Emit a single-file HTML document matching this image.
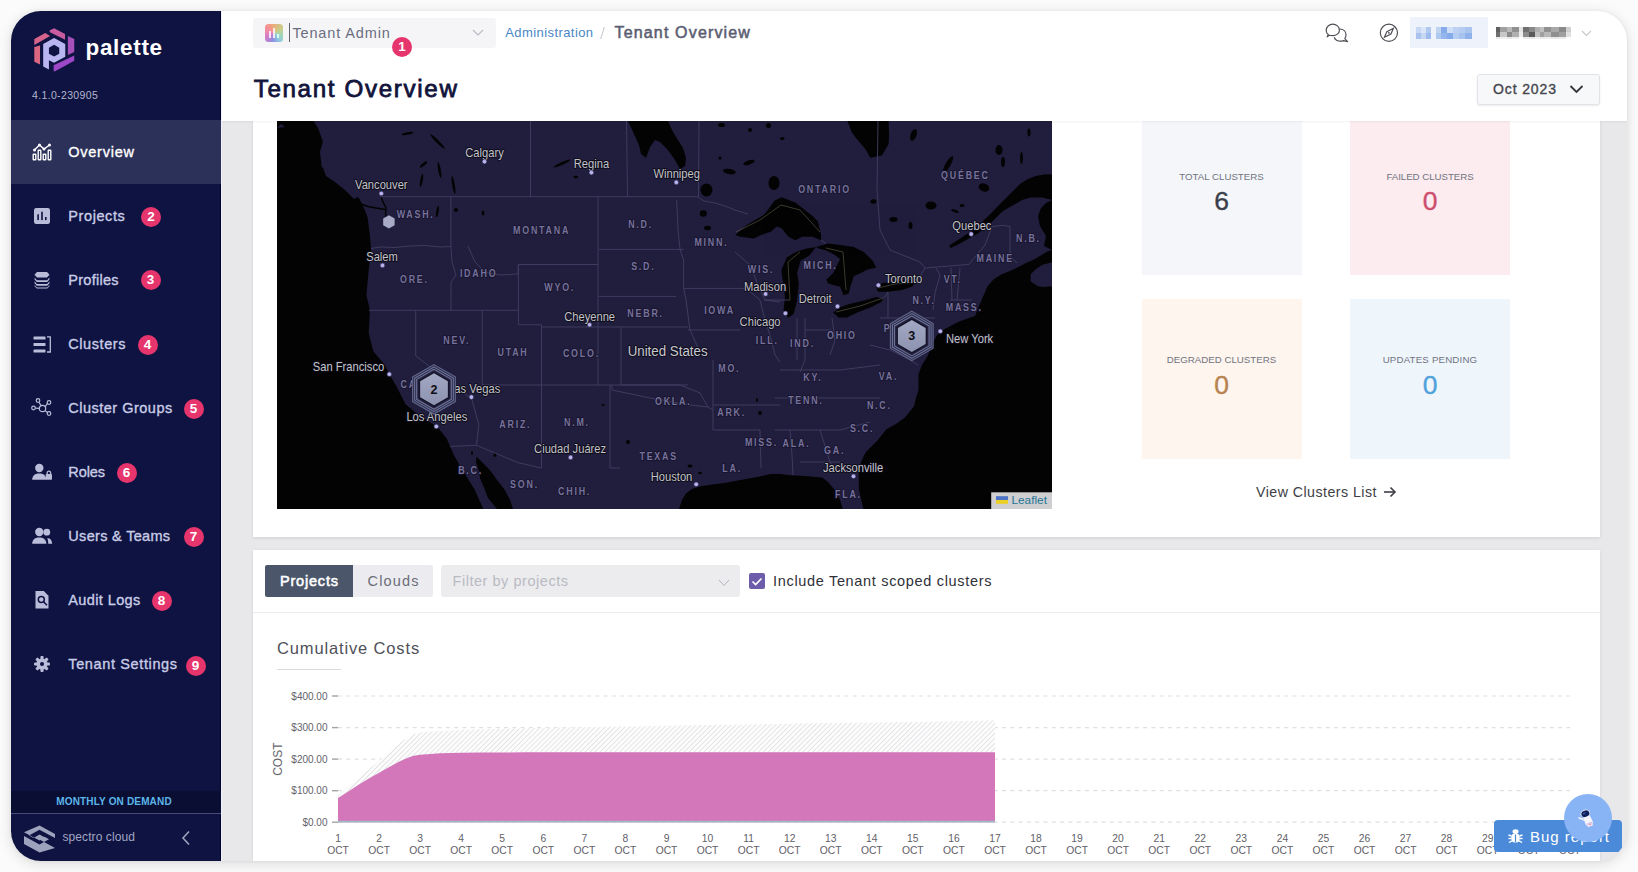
<!DOCTYPE html><html><head><meta charset="utf-8"><title>Tenant Overview</title><style>
*{margin:0;padding:0;box-sizing:border-box}
html,body{width:1638px;height:872px;overflow:hidden;background:#fbfbfb;font-family:"Liberation Sans",Arial,sans-serif}
.a{position:absolute}
#shadow{position:absolute;left:11px;top:11px;width:1616px;height:850px;border-radius:30px;box-shadow:0 3px 14px rgba(0,0,0,.13),0 0 4px rgba(0,0,0,.05);background:#e9e9ee}
#app{position:absolute;left:0;top:0;width:1638px;height:872px;clip-path:inset(11px 11px 11px 11px round 30px)}
#side{position:absolute;left:11px;top:11px;width:210px;height:850px;background:#0e1341}
#content{position:absolute;left:222px;top:121px;width:1405px;height:740px;background:#e8e8eb}
#header{position:absolute;left:221px;top:11px;width:1406px;height:110px;background:#fff;box-shadow:0 1px 2px rgba(0,0,0,.06)}
.card{position:absolute;background:#fff;box-shadow:0 1px 3px rgba(0,0,0,.10)}
.t{position:absolute;white-space:nowrap;line-height:1}
.m{-webkit-text-stroke:0.35px currentColor}
.m2{-webkit-text-stroke:0.55px currentColor}
.m3{-webkit-text-stroke:0.8px currentColor}
</style></head><body><div id="shadow"></div><div id="app"><div id="content"></div><div class="card" style="left:253px;top:100px;width:1347px;height:437px"></div><svg class="a" style="left:277px;top:121px" width="775" height="388" viewBox="277 121 775 388" font-family="Liberation Sans, Arial, sans-serif"><defs><linearGradient id="cg" x1="0" y1="0" x2="0" y2="1"><stop offset="0" stop-color="#a3a8c3"/><stop offset="1" stop-color="#8d93b0"/></linearGradient></defs><rect x="277" y="121" width="775" height="388" fill="#211d3c"/><polygon points="277.0,121.0 313.7,121.0 318.0,128.0 322.9,141.6 320.0,152.0 321.7,166.9 330.0,172.0 338.0,176.0 345.8,182.9 352.0,190.0 359.5,199.0 364.0,208.0 367.6,217.3 369.9,235.6 371.0,249.4 368.7,270.0 366.4,295.3 369.9,310.0 368.7,332.9 373.3,351.3 384.8,365.0 389.3,374.2 396.2,385.7 405.4,404.0 419.2,415.5 437.5,426.9 446.7,438.4 453.5,454.4 462.7,470.5 474.2,488.8 483.4,509.0 277.0,509.0" fill="#030303"/><polygon points="476.5,456.7 482.0,462.0 490.2,470.5 497.0,480.0 504.0,488.8 510.0,500.0 513.0,509.0 497.0,509.0 488.0,498.0 484.5,488.8 480.0,478.0 478.8,470.5 476.0,462.0" fill="#030303"/><polygon points="679.0,509.0 682.0,500.0 685.9,493.4 692.0,489.0 699.7,486.5 713.4,484.3 725.0,483.0 736.4,480.8 746.0,479.0 754.7,477.4 762.0,476.0 770.7,473.9 780.0,474.0 790.0,475.2 805.0,476.0 822.1,477.5 828.0,482.0 835.9,491.2 840.0,500.0 842.8,509.0" fill="#030303"/><polygon points="863.4,509.0 858.8,489.0 858.8,470.6 861.0,462.0 865.7,452.2 877.2,440.8 886.4,429.3 896.0,424.0 904.7,417.8 913.9,406.4 916.0,398.0 918.5,390.3 918.5,374.2 922.0,365.0 927.7,355.9 932.0,345.0 936.8,335.2 943.0,330.0 950.6,326.1 958.0,322.0 966.0,319.0 975.0,316.0 980.3,303.0 987.5,286.2 994.0,279.0 1001.8,274.3 1010.0,271.0 1018.6,267.1 1026.0,263.0 1033.0,259.9 1040.0,256.0 1047.3,251.5 1052.0,250.0 1052.0,509.0" fill="#030303"/><polygon points="949.2,245.5 961.0,238.0 973.1,230.0 982.0,222.0 989.9,214.4 998.0,206.0 1006.6,197.6 1014.0,190.0 1021.0,183.3 1028.0,179.0 1035.4,176.1 1044.0,174.5 1052.0,174.2 1052.0,200.0 1042.5,197.6 1030.6,197.6 1022.0,200.0 1016.2,203.6 1008.0,208.0 1001.8,212.0 992.3,221.6 985.0,228.0 977.9,233.5 968.0,239.0 958.7,244.3 950.4,247.9" fill="#030303"/><polygon points="1052.0,200.0 1046.0,203.0 1041.0,208.0 1038.0,216.0 1040.0,226.0 1046.0,236.0 1044.0,246.0 1052.0,250.0" fill="#030303"/><polygon points="735.2,235.0 747.2,224.7 764.4,214.4 774.7,200.6 781.6,197.2 795.3,202.4 803.9,209.2 812.5,216.1 817.7,221.3 821.1,235.0 821.1,240.2 812.5,236.8 802.2,236.8 795.3,240.2 788.5,236.8 781.6,228.2 776.4,226.4 771.3,231.6 761.0,235.0 754.1,238.5 740.3,236.8" fill="#030303"/><polygon points="781.6,269.4 786.8,257.4 795.3,252.2 805.7,248.8 816.0,247.1 809.1,255.7 800.5,260.8 797.1,272.9 798.8,283.2 797.1,300.4 793.6,314.1 788.5,317.6 783.3,312.4 785.0,296.9 783.3,283.2 781.6,272.9" fill="#030303"/><polygon points="816.0,247.1 828.0,243.6 841.8,245.3 853.8,247.1 864.1,252.2 872.7,260.8 876.2,267.7 867.6,269.4 860.7,272.9 853.8,276.3 850.4,286.6 848.7,293.5 843.5,295.2 840.1,286.6 833.2,284.9 828.0,283.2 826.3,279.7 833.2,272.9 836.6,266.0 840.1,259.1 833.2,253.9 826.3,250.5 819.4,248.8" fill="#030303"/><polygon points="833.2,312.4 840.1,307.3 850.4,303.8 864.1,300.4 876.2,296.9 883.1,298.7 881.3,302.1 871.0,307.3 857.3,312.4 846.9,317.6 838.3,317.6" fill="#030303"/><polygon points="876.2,286.6 881.3,283.2 893.4,281.5 908.8,279.7 915.7,281.5 912.3,286.6 902.0,290.1 888.2,291.8 877.9,291.8" fill="#030303"/><polygon points="847.4,121.0 888.6,121.0 889.0,135.0 888.6,144.0 884.0,152.0 881.8,155.4 870.3,157.7 866.0,150.0 861.1,144.0 856.0,138.0 851.9,132.5" fill="#030303"/><polygon points="628.0,121.0 668.0,121.0 672.0,130.0 676.0,137.0 683.0,148.0 686.0,158.0 685.0,166.0 680.0,169.0 675.0,160.0 668.0,150.0 660.0,142.0 655.0,140.0 650.0,147.0 646.0,158.0 641.0,154.0 639.0,145.0 634.0,134.0" fill="#030303"/><polygon points="277.0,128.0 281.0,124.0 285.0,127.0 284.0,134.0 279.0,139.0 277.0,137.0" fill="#030303"/><polygon points="323.0,168.0 333.0,171.0 343.0,179.0 352.0,188.0 358.0,197.0 354.0,199.0 345.0,190.0 335.0,182.0 326.0,176.0" fill="#211d3c"/><polygon points="277.0,128.0 281.0,124.0 285.0,127.0" fill="#211d3c"/><polygon points="1030.6,274.3 1036.0,269.0 1042.5,264.7 1052.0,262.3 1052.0,286.2 1044.0,287.0 1037.8,286.2 1030.6,281.4" fill="#211d3c"/><polyline points="361,204 368,206.5 376,208 385,209.5" fill="none" stroke="#030303" stroke-width="1.6"/><polyline points="381,197 383.5,203 386,208 385.5,214 387,219" fill="none" stroke="#030303" stroke-width="1.4"/><ellipse cx="913.5" cy="135" rx="3" ry="6" transform="rotate(20 913.5 135)" fill="#030303"/><ellipse cx="948" cy="164.5" rx="2.5" ry="9.5" transform="rotate(30 948 164.5)" fill="#030303"/><ellipse cx="931" cy="205.5" rx="5.5" ry="4" transform="rotate(0 931 205.5)" fill="#030303"/><ellipse cx="873.5" cy="201.5" rx="3" ry="2.2" transform="rotate(0 873.5 201.5)" fill="#030303"/><ellipse cx="893.5" cy="219.5" rx="4" ry="2.4" transform="rotate(0 893.5 219.5)" fill="#030303"/><ellipse cx="910.5" cy="225.5" rx="2" ry="3.5" transform="rotate(0 910.5 225.5)" fill="#030303"/><ellipse cx="984" cy="187.5" rx="5.5" ry="4" transform="rotate(20 984 187.5)" fill="#030303"/><ellipse cx="999" cy="150" rx="3.5" ry="5" transform="rotate(0 999 150)" fill="#030303"/><ellipse cx="1003" cy="162" rx="2" ry="5" transform="rotate(0 1003 162)" fill="#030303"/><ellipse cx="1021.5" cy="158" rx="1.4" ry="6" transform="rotate(0 1021.5 158)" fill="#030303"/><ellipse cx="962" cy="205.5" rx="2.5" ry="1.6" transform="rotate(0 962 205.5)" fill="#030303"/><ellipse cx="1029" cy="132.5" rx="1.5" ry="4" transform="rotate(0 1029 132.5)" fill="#030303"/><ellipse cx="955" cy="211" rx="4" ry="1.2" transform="rotate(20 955 211)" fill="#030303"/><ellipse cx="407.5" cy="133.5" rx="6" ry="1.3" transform="rotate(-10 407.5 133.5)" fill="#030303"/><ellipse cx="437.5" cy="141.5" rx="1.4" ry="10" transform="rotate(-45 437.5 141.5)" fill="#030303"/><ellipse cx="423.5" cy="164.5" rx="4.5" ry="1.4" transform="rotate(-40 423.5 164.5)" fill="#030303"/><ellipse cx="421.5" cy="180.5" rx="1.3" ry="6.5" transform="rotate(10 421.5 180.5)" fill="#030303"/><ellipse cx="439.5" cy="170" rx="1.3" ry="8" transform="rotate(-10 439.5 170)" fill="#030303"/><ellipse cx="453.5" cy="185" rx="1.3" ry="9" transform="rotate(-10 453.5 185)" fill="#030303"/><ellipse cx="483" cy="213" rx="1.3" ry="2.5" transform="rotate(0 483 213)" fill="#030303"/><ellipse cx="456" cy="210" rx="2" ry="2" transform="rotate(0 456 210)" fill="#030303"/><ellipse cx="437.5" cy="211.5" rx="1.2" ry="5.5" transform="rotate(10 437.5 211.5)" fill="#030303"/><ellipse cx="562" cy="163.5" rx="9" ry="1.4" transform="rotate(-25 562 163.5)" fill="#030303"/><ellipse cx="575.8" cy="177" rx="2.2" ry="1.3" transform="rotate(0 575.8 177)" fill="#030303"/><ellipse cx="706.5" cy="190" rx="6" ry="6.5" transform="rotate(0 706.5 190)" fill="#030303"/><ellipse cx="703.3" cy="213.5" rx="3.5" ry="3.2" transform="rotate(0 703.3 213.5)" fill="#030303"/><ellipse cx="707.5" cy="228" rx="3.5" ry="2.2" transform="rotate(0 707.5 228)" fill="#030303"/><ellipse cx="720" cy="158" rx="1.5" ry="1.5" transform="rotate(0 720 158)" fill="#030303"/><ellipse cx="729.3" cy="171.5" rx="6.5" ry="2.5" transform="rotate(10 729.3 171.5)" fill="#030303"/><ellipse cx="749" cy="162.5" rx="6" ry="2" transform="rotate(-20 749 162.5)" fill="#030303"/><ellipse cx="774" cy="183" rx="5.5" ry="7" transform="rotate(0 774 183)" fill="#030303"/><ellipse cx="721.5" cy="125" rx="3.5" ry="2" transform="rotate(0 721.5 125)" fill="#030303"/><ellipse cx="750" cy="130" rx="2" ry="2" transform="rotate(0 750 130)" fill="#030303"/><ellipse cx="768.5" cy="125.5" rx="2.5" ry="2.5" transform="rotate(0 768.5 125.5)" fill="#030303"/><ellipse cx="782.3" cy="138.5" rx="2.2" ry="1.5" transform="rotate(0 782.3 138.5)" fill="#030303"/><ellipse cx="603" cy="405" rx="1.5" ry="1" transform="rotate(0 603 405)" fill="#030303"/><ellipse cx="628" cy="442" rx="2" ry="2" transform="rotate(0 628 442)" fill="#030303"/><ellipse cx="760" cy="413" rx="2" ry="2" transform="rotate(0 760 413)" fill="#030303"/><ellipse cx="757" cy="400" rx="1" ry="2" transform="rotate(0 757 400)" fill="#030303"/><ellipse cx="495" cy="455" rx="1.5" ry="2" transform="rotate(0 495 455)" fill="#030303"/><ellipse cx="472" cy="453" rx="1" ry="2" transform="rotate(0 472 453)" fill="#030303"/><ellipse cx="690" cy="466" rx="2.5" ry="1.5" transform="rotate(0 690 466)" fill="#030303"/><ellipse cx="700" cy="473" rx="2" ry="1.2" transform="rotate(0 700 473)" fill="#030303"/><g fill="none" stroke="#413e63" stroke-width="0.9"><polyline points="380.0,196.7 697.0,196.7 704.0,201.0 715.0,203.0 725.0,206.0 736.0,210.4 748.0,214.0"/><polyline points="821.0,240.0 826.0,243.6"/><polyline points="884.0,298.0 888.0,292.0"/><polyline points="916.0,283.0 925.0,268.0 969.0,264.4 973.5,258.7 985.0,245.0 992.0,226.5 1003.0,225.4 1010.0,226.5 1010.0,256.4 1017.0,263.0"/><polyline points="530.5,121.0 530.5,196.7"/><polyline points="626.5,121.0 627.5,196.7"/><polyline points="699.0,121.0 698.5,196.7"/><polyline points="878.0,121.0 877.0,190.0 880.0,230.0 890.0,250.0 920.0,262.0 925.0,268.0"/><polyline points="450.9,196.7 450.9,246.0 452.0,262.0 456.0,275.0 451.0,282.0 450.9,310.3"/><polyline points="371.0,248.5 380.0,247.0 395.0,247.5 410.0,246.0 425.0,245.5 440.0,247.0 451.0,246.5"/><polyline points="368.9,310.3 518.4,310.3"/><polyline points="415.7,310.3 415.7,355.9 445.0,378.0 471.9,399.4"/><polyline points="482.2,310.3 482.2,385.0"/><polyline points="468.0,246.0 475.0,262.0 485.0,272.0 500.0,275.0 518.0,274.0 518.4,264.5"/><polyline points="518.4,264.5 598.0,264.5"/><polyline points="598.0,196.7 598.0,385.0"/><polyline points="518.4,264.5 518.4,324.8 541.5,324.8"/><polyline points="541.5,324.8 541.5,468.0"/><polyline points="482.2,385.0 688.0,385.0"/><polyline points="541.5,327.0 598.0,327.0"/><polyline points="598.0,327.0 688.0,327.0"/><polyline points="621.0,327.0 621.0,385.0"/><polyline points="610.0,385.0 610.0,468.0 620.0,468.0"/><polyline points="471.9,399.4 478.8,424.6 476.5,445.3"/><polyline points="450.0,446.4 476.5,445.3 517.7,462.5 541.0,468.0"/><polyline points="598.8,296.4 676.0,296.4"/><polyline points="598.8,249.4 683.6,249.4"/><polyline points="683.6,288.4 745.5,288.4"/><polyline points="676.7,200.0 678.0,230.0 680.0,249.4 683.6,260.0 683.6,288.4 686.0,300.0 690.0,330.0 700.0,352.0"/><polyline points="688.0,330.0 740.0,330.0"/><polyline points="621.0,385.0 680.0,385.0 700.0,393.0 708.0,407.0 713.0,410.0"/><polyline points="612.0,385.0 612.0,390.0 650.0,398.0 690.0,405.0 708.0,407.0"/><polyline points="713.0,360.0 713.0,430.0"/><polyline points="713.0,405.0 780.0,405.0"/><polyline points="713.0,430.0 760.0,430.0"/><polyline points="735.0,252.0 750.0,265.0 760.0,290.0 765.0,300.0 780.0,302.0"/><polyline points="748.0,290.0 760.0,300.0 765.0,320.0 770.0,335.0 775.0,355.0 780.0,362.0"/><polyline points="764.0,300.0 790.0,300.0"/><polyline points="797.0,318.0 797.0,360.0"/><polyline points="805.0,318.0 805.0,360.0 800.0,372.0"/><polyline points="805.0,330.0 832.0,330.0"/><polyline points="832.0,318.0 835.0,340.0 830.0,355.0"/><polyline points="780.0,370.0 840.0,370.0 880.0,365.0"/><polyline points="775.0,398.0 880.0,398.0"/><polyline points="775.0,430.0 840.0,430.0 870.0,422.0"/><polyline points="760.0,430.0 761.0,468.0"/><polyline points="790.0,430.0 792.0,455.0 793.0,475.0"/><polyline points="820.0,430.0 830.0,462.0 835.0,470.0"/><polyline points="800.0,462.0 840.0,462.0"/><polyline points="880.0,318.0 935.0,318.0"/><polyline points="888.0,292.0 888.0,318.0"/><polyline points="870.0,345.0 890.0,350.0 910.0,360.0 918.0,365.0"/><polyline points="933.0,310.0 935.0,293.0 940.0,275.0 936.0,268.0"/><polyline points="951.0,268.0 952.0,300.0"/><polyline points="960.0,268.0 957.0,300.0"/><polyline points="950.0,300.0 972.0,300.0"/><polyline points="955.0,305.0 965.0,306.0"/></g><g fill="none" stroke="#6a6650" stroke-width="0.7" opacity=".8"><polyline points="736,232 760,220 781,205 800,210 820,232"/><polyline points="790,300 788,262 800,252"/><polyline points="826,248 843,252 846,290"/><polyline points="836,312 860,306 883,298"/><polyline points="878,288 895,284 916,282"/></g><g fill="#77739c" font-size="10.6" font-weight="700" letter-spacing="2.1" text-anchor="middle" stroke="#15122a" stroke-width="1.6" paint-order="stroke" stroke-linejoin="round"><text transform="translate(415.6,217.6) scale(0.84,1)">WASH.</text><text transform="translate(541.6,234.0) scale(0.84,1)">MONTANA</text><text transform="translate(640.6,228.3) scale(0.84,1)">N.D.</text><text transform="translate(711.4,246.2) scale(0.84,1)">MINN.</text><text transform="translate(824.5,193.2) scale(0.84,1)">ONTARIO</text><text transform="translate(965.4,179.1) scale(0.84,1)">QUÉBEC</text><text transform="translate(1028.4,241.7) scale(0.84,1)">N.B.</text><text transform="translate(995.2,261.7) scale(0.84,1)">MAINE</text><text transform="translate(414.4,282.9) scale(0.84,1)">ORE.</text><text transform="translate(478.6,277.2) scale(0.84,1)">IDAHO</text><text transform="translate(559.7,291.4) scale(0.84,1)">WYO.</text><text transform="translate(643.3,270.3) scale(0.84,1)">S.D.</text><text transform="translate(761.0,272.5) scale(0.84,1)">WIS.</text><text transform="translate(820.6,269.0) scale(0.84,1)">MICH.</text><text transform="translate(952.7,283.0) scale(0.84,1)">VT.</text><text transform="translate(924.1,303.7) scale(0.84,1)">N.Y.</text><text transform="translate(964.2,310.5) scale(0.84,1)">MASS.</text><text transform="translate(645.6,317.3) scale(0.84,1)">NEBR.</text><text transform="translate(719.5,313.9) scale(0.84,1)">IOWA</text><text transform="translate(456.8,344.2) scale(0.84,1)">NEV.</text><text transform="translate(513.0,356.1) scale(0.84,1)">UTAH</text><text transform="translate(581.4,357.3) scale(0.84,1)">COLO.</text><text transform="translate(729.3,372.2) scale(0.84,1)">MO.</text><text transform="translate(767.2,343.5) scale(0.84,1)">ILL.</text><text transform="translate(802.5,346.5) scale(0.84,1)">IND.</text><text transform="translate(841.9,338.9) scale(0.84,1)">OHIO</text><text transform="translate(887.5,331.7) scale(0.84,1)">P</text><text transform="translate(812.8,381.4) scale(0.84,1)">KY.</text><text transform="translate(888.5,379.8) scale(0.84,1)">VA.</text><text transform="translate(805.9,403.7) scale(0.84,1)">TENN.</text><text transform="translate(879.3,409.4) scale(0.84,1)">N.C.</text><text transform="translate(731.6,415.7) scale(0.84,1)">ARK.</text><text transform="translate(673.2,404.7) scale(0.84,1)">OKLA.</text><text transform="translate(515.3,427.7) scale(0.84,1)">ARIZ.</text><text transform="translate(576.9,426.0) scale(0.84,1)">N.M.</text><text transform="translate(408.7,387.5) scale(0.84,1)">CA</text><text transform="translate(761.4,446.2) scale(0.84,1)">MISS.</text><text transform="translate(796.5,446.7) scale(0.84,1)">ALA.</text><text transform="translate(862.1,431.9) scale(0.84,1)">S.C.</text><text transform="translate(834.6,453.7) scale(0.84,1)">GA.</text><text transform="translate(658.7,460.4) scale(0.84,1)">TEXAS</text><text transform="translate(732.1,471.9) scale(0.84,1)">LA.</text><text transform="translate(470.6,474.2) scale(0.84,1)">B.C.</text><text transform="translate(524.5,487.9) scale(0.84,1)">SON.</text><text transform="translate(574.6,494.8) scale(0.84,1)">CHIH.</text><text transform="translate(848.4,498.4) scale(0.84,1)">FLA.</text></g><g fill="#c3c3ca" font-size="13" text-anchor="middle" stroke="#0c0b18" stroke-width="1.8" paint-order="stroke" stroke-linejoin="round"><text transform="translate(381.3,188.6) scale(0.86,1)">Vancouver</text><text transform="translate(484.5,156.6) scale(0.86,1)">Calgary</text><text transform="translate(591.4,168.0) scale(0.86,1)">Regina</text><text transform="translate(676.7,177.9) scale(0.86,1)">Winnipeg</text><text transform="translate(382.0,260.9) scale(0.86,1)">Salem</text><text transform="translate(971.9,230.0) scale(0.86,1)">Quebec</text><text transform="translate(903.6,282.9) scale(0.86,1)">Toronto</text><text transform="translate(765.0,291.0) scale(0.86,1)">Madison</text><text transform="translate(815.2,303.3) scale(0.86,1)">Detroit</text><text transform="translate(760.1,326.0) scale(0.86,1)">Chicago</text><text transform="translate(589.6,320.5) scale(0.86,1)">Cheyenne</text><text transform="translate(348.5,370.8) scale(0.86,1)">San Francisco</text><text transform="translate(474.2,392.6) scale(0.86,1)">Las Vegas</text><text transform="translate(436.8,421.2) scale(0.86,1)">Los Angeles</text><text transform="translate(570.1,452.9) scale(0.86,1)">Ciudad Juárez</text><text transform="translate(671.5,480.8) scale(0.86,1)">Houston</text><text transform="translate(853.1,471.8) scale(0.86,1)">Jacksonville</text><text transform="translate(969.6,343.3) scale(0.86,1)">New York</text><text transform="translate(667.6,355.6) scale(0.86,1)" font-size="15.5" fill="#c9c9d1">United States</text></g><g fill="#b8b3ec" stroke="#2a2850" stroke-width=".6"><circle cx="381.3" cy="193.5" r="2.3"/><circle cx="484.5" cy="161.6" r="2.3"/><circle cx="591.4" cy="172.6" r="2.3"/><circle cx="676.3" cy="182.4" r="2.3"/><circle cx="382.5" cy="265.4" r="2.3"/><circle cx="971.2" cy="234.1" r="2.3"/><circle cx="878.4" cy="285.2" r="2.3"/><circle cx="765.6" cy="294" r="2.3"/><circle cx="837.5" cy="306.4" r="2.3"/><circle cx="785.4" cy="313.3" r="2.3"/><circle cx="589.6" cy="324.8" r="2.3"/><circle cx="389.3" cy="374.2" r="2.3"/><circle cx="471.4" cy="397.1" r="2.3"/><circle cx="436.3" cy="426.5" r="2.3"/><circle cx="570.6" cy="457.4" r="2.3"/><circle cx="696.2" cy="484.3" r="2.3"/><circle cx="853.5" cy="476.3" r="2.3"/><circle cx="940.3" cy="331.3" r="2.3"/></g><polygon points="388.90,215.30 394.62,218.60 394.62,225.20 388.90,228.50 383.18,225.20 383.18,218.60" fill="#a7abc6"/><polygon points="434.00,364.70 455.30,377.00 455.30,401.60 434.00,413.90 412.70,401.60 412.70,377.00" fill="#23213e" stroke="#5d6288" stroke-width="1.3"/><polygon points="434.00,367.00 453.31,378.15 453.31,400.45 434.00,411.60 414.69,400.45 414.69,378.15" fill="none" stroke="#6b7096" stroke-width="1.2"/><polygon points="434.00,369.30 451.32,379.30 451.32,399.30 434.00,409.30 416.68,399.30 416.68,379.30" fill="none" stroke="#6b7096" stroke-width="1.2"/><polygon points="434.00,371.70 449.24,380.50 449.24,398.10 434.00,406.90 418.76,398.10 418.76,380.50" fill="#15142a"/><polygon points="434.00,373.30 447.86,381.30 447.86,397.30 434.00,405.30 420.14,397.30 420.14,381.30" fill="url(#cg)"/><text x="434" y="393.6" text-anchor="middle" font-size="12.5" font-weight="700" fill="#0d0d14">2</text><polygon points="911.80,311.30 933.10,323.60 933.10,348.20 911.80,360.50 890.50,348.20 890.50,323.60" fill="#23213e" stroke="#5d6288" stroke-width="1.3"/><polygon points="911.80,313.60 931.11,324.75 931.11,347.05 911.80,358.20 892.49,347.05 892.49,324.75" fill="none" stroke="#6b7096" stroke-width="1.2"/><polygon points="911.80,315.90 929.12,325.90 929.12,345.90 911.80,355.90 894.48,345.90 894.48,325.90" fill="none" stroke="#6b7096" stroke-width="1.2"/><polygon points="911.80,318.30 927.04,327.10 927.04,344.70 911.80,353.50 896.56,344.70 896.56,327.10" fill="#15142a"/><polygon points="911.80,319.90 925.66,327.90 925.66,343.90 911.80,351.90 897.94,343.90 897.94,327.90" fill="url(#cg)"/><text x="911.8" y="340.2" text-anchor="middle" font-size="12.5" font-weight="700" fill="#0d0d14">3</text><rect x="991.2" y="492.3" width="61" height="17" fill="#cfcfd1"/><rect x="996" y="496.2" width="12" height="3.8" fill="#4d73c4"/><rect x="996" y="500" width="12" height="3.8" fill="#ecd024"/><text x="1011.5" y="504" font-size="11.8" fill="#1f7596">Leaflet</text></svg><div class="a" style="left:1141.5px;top:115px;width:160px;height:160px;background:#f4f6f9"></div><div class="t" id="t1" style="left:1221.5px;top:171.59px;font-size:9.7px;color:#70737f;letter-spacing:0.010px;transform:translateX(-50%);">TOTAL CLUSTERS</div><div class="t m" id="t2" style="left:1221.5px;top:188.17px;font-size:26.5px;color:#3a3f48;transform:translateX(-50%);">6</div><div class="a" style="left:1350px;top:115px;width:160px;height:160px;background:#fcebef"></div><div class="t" id="t3" style="left:1430.0px;top:171.59px;font-size:9.7px;color:#70737f;letter-spacing:-0.034px;transform:translateX(-50%);">FAILED CLUSTERS</div><div class="t m" id="t4" style="left:1430.0px;top:188.17px;font-size:26.5px;color:#cc4f6d;transform:translateX(-50%);">0</div><div class="a" style="left:1141.5px;top:298.5px;width:160px;height:160px;background:#fdf5ee"></div><div class="t" id="t5" style="left:1221.5px;top:355.09px;font-size:9.7px;color:#70737f;letter-spacing:0.006px;transform:translateX(-50%);">DEGRADED CLUSTERS</div><div class="t m" id="t6" style="left:1221.5px;top:371.67px;font-size:26.5px;color:#b7834f;transform:translateX(-50%);">0</div><div class="a" style="left:1350px;top:298.5px;width:160px;height:160px;background:#eef6fc"></div><div class="t" id="t7" style="left:1430.0px;top:355.09px;font-size:9.7px;color:#70737f;letter-spacing:0.186px;transform:translateX(-50%);">UPDATES PENDING</div><div class="t m" id="t8" style="left:1430.0px;top:371.67px;font-size:26.5px;color:#4fa2da;transform:translateX(-50%);">0</div><div class="t" id="t9" style="left:1256.0px;top:484.98px;font-size:14.2px;color:#3d3e46;letter-spacing:0.470px;">View Clusters List</div><svg class="a" style="left:1383px;top:486px" width="14" height="12" viewBox="0 0 14 12"><g fill="none" stroke="#3d3e46" stroke-width="1.6"><line x1="1" y1="6" x2="12" y2="6"/><polyline points="7.5,1.5 12,6 7.5,10.5"/></g></svg><div class="card" style="left:253px;top:550px;width:1347px;height:330px"></div><div class="a" style="left:265px;top:565px;width:88px;height:32px;background:#4b566b;border-radius:2px 0 0 2px"></div><div class="a" style="left:353px;top:565px;width:79.5px;height:32px;background:#ececf0;border-radius:0 2px 2px 0"></div><div class="t m2" id="t10" style="left:280.0px;top:573.73px;font-size:14.5px;color:#ffffff;letter-spacing:0.803px;">Projects</div><div class="t" id="t11" style="left:367.5px;top:573.73px;font-size:14.5px;color:#6b6d78;letter-spacing:1.175px;">Clouds</div><div class="a" style="left:441px;top:565px;width:299px;height:32px;background:#ececef;border-radius:3px"></div><div class="t" id="t12" style="left:452.5px;top:573.73px;font-size:14.5px;color:#b9bac2;letter-spacing:0.538px;">Filter by projects</div><svg class="a" style="left:718px;top:578.5px" width="12" height="8" viewBox="0 0 12 8"><polyline points="1,1 6,6.5 11,1" fill="none" stroke="#b4b5bd" stroke-width="1"/></svg><div class="a" style="left:749px;top:573px;width:15.8px;height:15.7px;background:#6c5ca9;border-radius:2px"></div><svg class="a" style="left:750px;top:575px" width="14" height="13" viewBox="0 0 14 13"><polyline points="2.5,6.5 5.6,9.6 11.5,3.5" fill="none" stroke="#fff" stroke-width="1.7"/></svg><div class="t" id="t13" style="left:773.0px;top:573.73px;font-size:14.5px;color:#2f3038;letter-spacing:0.678px;">Include Tenant scoped clusters</div><div class="a" style="left:253px;top:612px;width:1347px;height:1px;background:#ebebef"></div><div class="t" id="t14" style="left:277.0px;top:640.33px;font-size:16.5px;color:#4f5058;letter-spacing:0.857px;">Cumulative Costs</div><div class="a" style="left:277px;top:668.5px;width:64px;height:1px;background:#d9d9de"></div><svg class="a" style="left:0;top:0" width="1638" height="872" viewBox="0 0 1638 872"><defs><pattern id="hp" width="3.5" height="3.5" patternUnits="userSpaceOnUse" patternTransform="rotate(45)"><rect width="3.5" height="3.5" fill="#fcfcfd"/><line x1="0" y1="0" x2="0" y2="3.5" stroke="#cfcfd3" stroke-width="1"/></pattern></defs><line x1="338" y1="822.2" x2="1570" y2="822.2" stroke="#e0e0e4" stroke-width="1.2" stroke-dasharray="4,4.3"/><line x1="332" y1="822.2" x2="338" y2="822.2" stroke="#a2a2a8" stroke-width="1.4"/><line x1="338" y1="790.7" x2="1570" y2="790.7" stroke="#e0e0e4" stroke-width="1.2" stroke-dasharray="4,4.3"/><line x1="332" y1="790.7" x2="338" y2="790.7" stroke="#a2a2a8" stroke-width="1.4"/><line x1="338" y1="759.1" x2="1570" y2="759.1" stroke="#e0e0e4" stroke-width="1.2" stroke-dasharray="4,4.3"/><line x1="332" y1="759.1" x2="338" y2="759.1" stroke="#a2a2a8" stroke-width="1.4"/><line x1="338" y1="727.6" x2="1570" y2="727.6" stroke="#e0e0e4" stroke-width="1.2" stroke-dasharray="4,4.3"/><line x1="332" y1="727.6" x2="338" y2="727.6" stroke="#a2a2a8" stroke-width="1.4"/><line x1="338" y1="696.0" x2="1570" y2="696.0" stroke="#e0e0e4" stroke-width="1.2" stroke-dasharray="4,4.3"/><line x1="332" y1="696.0" x2="338" y2="696.0" stroke="#a2a2a8" stroke-width="1.4"/><path d="M338.0,795.4 C351.7,783.9 365.4,771.4 379.1,761.0 C392.7,750.6 406.4,734.1 420.1,732.6 C433.8,731.1 447.5,730.6 461.2,730.1 C474.9,729.5 488.6,729.2 502.2,728.8 C515.9,728.5 529.6,728.1 543.3,727.9 C557.0,727.6 570.7,727.4 584.4,727.2 C598.0,727.0 611.7,726.9 625.4,726.6 C639.1,726.4 652.8,725.9 666.5,725.7 C680.2,725.4 693.9,725.2 707.5,725.0 C721.2,724.8 734.9,724.6 748.6,724.4 C762.3,724.2 776.0,724.0 789.7,723.8 C803.3,723.6 817.0,723.3 830.7,723.1 C844.4,722.9 858.1,722.7 871.8,722.5 C885.5,722.3 899.2,722.1 912.8,721.9 C926.5,721.7 940.2,721.5 953.9,721.2 C967.6,721.0 981.3,720.6 995.0,720.3 L995.0,822.2 L338,822.2 Z" fill="url(#hp)"/><path d="M338.0,797.9 C351.7,789.5 365.4,779.7 379.1,772.7 C392.7,765.7 406.4,755.8 420.1,754.7 C433.8,753.5 447.5,753.0 461.2,752.8 C474.9,752.6 488.6,752.6 502.2,752.5 C515.9,752.4 529.6,752.2 543.3,752.2 C557.0,752.2 570.7,752.2 584.4,752.2 C598.0,752.2 611.7,752.2 625.4,752.2 C639.1,752.2 652.8,752.2 666.5,752.2 C680.2,752.2 693.9,752.2 707.5,752.2 C721.2,752.2 734.9,752.2 748.6,752.2 C762.3,752.2 776.0,752.2 789.7,752.2 C803.3,752.2 817.0,752.2 830.7,752.2 C844.4,752.2 858.1,752.2 871.8,752.2 C885.5,752.2 899.2,752.2 912.8,752.2 C926.5,752.2 940.2,752.2 953.9,752.2 C967.6,752.2 981.3,752.2 995.0,752.2 L995.0,822.2 L338,822.2 Z" fill="#d376ba"/><line x1="338" y1="821.7" x2="995.0" y2="821.7" stroke="#9fbcc6" stroke-width="1.8"/></svg><div class="t" id="t15" style="left:327.5px;top:817.94px;font-size:10px;color:#63636b;transform:translateX(-100%);">$0.00</div><div class="t" id="t16" style="left:327.5px;top:786.39px;font-size:10px;color:#63636b;transform:translateX(-100%);">$100.00</div><div class="t" id="t17" style="left:327.5px;top:754.84px;font-size:10px;color:#63636b;transform:translateX(-100%);">$200.00</div><div class="t" id="t18" style="left:327.5px;top:723.29px;font-size:10px;color:#63636b;transform:translateX(-100%);">$300.00</div><div class="t" id="t19" style="left:327.5px;top:691.74px;font-size:10px;color:#63636b;transform:translateX(-100%);">$400.00</div><div class="t" id="t20" style="left:338.0px;top:833.78px;font-size:10.3px;color:#5f6068;transform:translateX(-50%);">1</div><div class="t" id="t21" style="left:338.0px;top:846.38px;font-size:10.3px;color:#5f6068;transform:translateX(-50%);">OCT</div><div class="t" id="t22" style="left:379.1px;top:833.78px;font-size:10.3px;color:#5f6068;transform:translateX(-50%);">2</div><div class="t" id="t23" style="left:379.1px;top:846.38px;font-size:10.3px;color:#5f6068;transform:translateX(-50%);">OCT</div><div class="t" id="t24" style="left:420.1px;top:833.78px;font-size:10.3px;color:#5f6068;transform:translateX(-50%);">3</div><div class="t" id="t25" style="left:420.1px;top:846.38px;font-size:10.3px;color:#5f6068;transform:translateX(-50%);">OCT</div><div class="t" id="t26" style="left:461.2px;top:833.78px;font-size:10.3px;color:#5f6068;transform:translateX(-50%);">4</div><div class="t" id="t27" style="left:461.2px;top:846.38px;font-size:10.3px;color:#5f6068;transform:translateX(-50%);">OCT</div><div class="t" id="t28" style="left:502.2px;top:833.78px;font-size:10.3px;color:#5f6068;transform:translateX(-50%);">5</div><div class="t" id="t29" style="left:502.2px;top:846.38px;font-size:10.3px;color:#5f6068;transform:translateX(-50%);">OCT</div><div class="t" id="t30" style="left:543.3px;top:833.78px;font-size:10.3px;color:#5f6068;transform:translateX(-50%);">6</div><div class="t" id="t31" style="left:543.3px;top:846.38px;font-size:10.3px;color:#5f6068;transform:translateX(-50%);">OCT</div><div class="t" id="t32" style="left:584.4px;top:833.78px;font-size:10.3px;color:#5f6068;transform:translateX(-50%);">7</div><div class="t" id="t33" style="left:584.4px;top:846.38px;font-size:10.3px;color:#5f6068;transform:translateX(-50%);">OCT</div><div class="t" id="t34" style="left:625.4px;top:833.78px;font-size:10.3px;color:#5f6068;transform:translateX(-50%);">8</div><div class="t" id="t35" style="left:625.4px;top:846.38px;font-size:10.3px;color:#5f6068;transform:translateX(-50%);">OCT</div><div class="t" id="t36" style="left:666.5px;top:833.78px;font-size:10.3px;color:#5f6068;transform:translateX(-50%);">9</div><div class="t" id="t37" style="left:666.5px;top:846.38px;font-size:10.3px;color:#5f6068;transform:translateX(-50%);">OCT</div><div class="t" id="t38" style="left:707.5px;top:833.78px;font-size:10.3px;color:#5f6068;transform:translateX(-50%);">10</div><div class="t" id="t39" style="left:707.5px;top:846.38px;font-size:10.3px;color:#5f6068;transform:translateX(-50%);">OCT</div><div class="t" id="t40" style="left:748.6px;top:833.78px;font-size:10.3px;color:#5f6068;transform:translateX(-50%);">11</div><div class="t" id="t41" style="left:748.6px;top:846.38px;font-size:10.3px;color:#5f6068;transform:translateX(-50%);">OCT</div><div class="t" id="t42" style="left:789.7px;top:833.78px;font-size:10.3px;color:#5f6068;transform:translateX(-50%);">12</div><div class="t" id="t43" style="left:789.7px;top:846.38px;font-size:10.3px;color:#5f6068;transform:translateX(-50%);">OCT</div><div class="t" id="t44" style="left:830.7px;top:833.78px;font-size:10.3px;color:#5f6068;transform:translateX(-50%);">13</div><div class="t" id="t45" style="left:830.7px;top:846.38px;font-size:10.3px;color:#5f6068;transform:translateX(-50%);">OCT</div><div class="t" id="t46" style="left:871.8px;top:833.78px;font-size:10.3px;color:#5f6068;transform:translateX(-50%);">14</div><div class="t" id="t47" style="left:871.8px;top:846.38px;font-size:10.3px;color:#5f6068;transform:translateX(-50%);">OCT</div><div class="t" id="t48" style="left:912.8px;top:833.78px;font-size:10.3px;color:#5f6068;transform:translateX(-50%);">15</div><div class="t" id="t49" style="left:912.8px;top:846.38px;font-size:10.3px;color:#5f6068;transform:translateX(-50%);">OCT</div><div class="t" id="t50" style="left:953.9px;top:833.78px;font-size:10.3px;color:#5f6068;transform:translateX(-50%);">16</div><div class="t" id="t51" style="left:953.9px;top:846.38px;font-size:10.3px;color:#5f6068;transform:translateX(-50%);">OCT</div><div class="t" id="t52" style="left:995.0px;top:833.78px;font-size:10.3px;color:#5f6068;transform:translateX(-50%);">17</div><div class="t" id="t53" style="left:995.0px;top:846.38px;font-size:10.3px;color:#5f6068;transform:translateX(-50%);">OCT</div><div class="t" id="t54" style="left:1036.0px;top:833.78px;font-size:10.3px;color:#5f6068;transform:translateX(-50%);">18</div><div class="t" id="t55" style="left:1036.0px;top:846.38px;font-size:10.3px;color:#5f6068;transform:translateX(-50%);">OCT</div><div class="t" id="t56" style="left:1077.1px;top:833.78px;font-size:10.3px;color:#5f6068;transform:translateX(-50%);">19</div><div class="t" id="t57" style="left:1077.1px;top:846.38px;font-size:10.3px;color:#5f6068;transform:translateX(-50%);">OCT</div><div class="t" id="t58" style="left:1118.1px;top:833.78px;font-size:10.3px;color:#5f6068;transform:translateX(-50%);">20</div><div class="t" id="t59" style="left:1118.1px;top:846.38px;font-size:10.3px;color:#5f6068;transform:translateX(-50%);">OCT</div><div class="t" id="t60" style="left:1159.2px;top:833.78px;font-size:10.3px;color:#5f6068;transform:translateX(-50%);">21</div><div class="t" id="t61" style="left:1159.2px;top:846.38px;font-size:10.3px;color:#5f6068;transform:translateX(-50%);">OCT</div><div class="t" id="t62" style="left:1200.3px;top:833.78px;font-size:10.3px;color:#5f6068;transform:translateX(-50%);">22</div><div class="t" id="t63" style="left:1200.3px;top:846.38px;font-size:10.3px;color:#5f6068;transform:translateX(-50%);">OCT</div><div class="t" id="t64" style="left:1241.3px;top:833.78px;font-size:10.3px;color:#5f6068;transform:translateX(-50%);">23</div><div class="t" id="t65" style="left:1241.3px;top:846.38px;font-size:10.3px;color:#5f6068;transform:translateX(-50%);">OCT</div><div class="t" id="t66" style="left:1282.4px;top:833.78px;font-size:10.3px;color:#5f6068;transform:translateX(-50%);">24</div><div class="t" id="t67" style="left:1282.4px;top:846.38px;font-size:10.3px;color:#5f6068;transform:translateX(-50%);">OCT</div><div class="t" id="t68" style="left:1323.4px;top:833.78px;font-size:10.3px;color:#5f6068;transform:translateX(-50%);">25</div><div class="t" id="t69" style="left:1323.4px;top:846.38px;font-size:10.3px;color:#5f6068;transform:translateX(-50%);">OCT</div><div class="t" id="t70" style="left:1364.5px;top:833.78px;font-size:10.3px;color:#5f6068;transform:translateX(-50%);">26</div><div class="t" id="t71" style="left:1364.5px;top:846.38px;font-size:10.3px;color:#5f6068;transform:translateX(-50%);">OCT</div><div class="t" id="t72" style="left:1405.6px;top:833.78px;font-size:10.3px;color:#5f6068;transform:translateX(-50%);">27</div><div class="t" id="t73" style="left:1405.6px;top:846.38px;font-size:10.3px;color:#5f6068;transform:translateX(-50%);">OCT</div><div class="t" id="t74" style="left:1446.6px;top:833.78px;font-size:10.3px;color:#5f6068;transform:translateX(-50%);">28</div><div class="t" id="t75" style="left:1446.6px;top:846.38px;font-size:10.3px;color:#5f6068;transform:translateX(-50%);">OCT</div><div class="t" id="t76" style="left:1487.7px;top:833.78px;font-size:10.3px;color:#5f6068;transform:translateX(-50%);">29</div><div class="t" id="t77" style="left:1487.7px;top:846.38px;font-size:10.3px;color:#5f6068;transform:translateX(-50%);">OCT</div><div class="t" id="t78" style="left:1528.7px;top:833.78px;font-size:10.3px;color:#5f6068;transform:translateX(-50%);">30</div><div class="t" id="t79" style="left:1528.7px;top:846.38px;font-size:10.3px;color:#5f6068;transform:translateX(-50%);">OCT</div><div class="t" id="t80" style="left:1569.8px;top:833.78px;font-size:10.3px;color:#5f6068;transform:translateX(-50%);">31</div><div class="t" id="t81" style="left:1569.8px;top:846.38px;font-size:10.3px;color:#5f6068;transform:translateX(-50%);">OCT</div><div class="t" id="t82" style="left:278.5px;top:751.84px;font-size:12px;color:#66666e;transform:translateX(-50%);transform:translate(-50%,0) rotate(-90deg);transform-origin:50% 60%;">COST</div><div id="header"></div><div class="a" style="left:253px;top:18px;width:243px;height:30px;background:#f5f5f7;border-radius:3px"></div><div class="a" style="left:265.2px;top:24px;width:17.6px;height:18px;border-radius:3.5px;background:conic-gradient(from 0deg at 50% 50%, #e6b07a 0deg, #c8cf88 60deg, #9ed6b8 110deg, #8fc8e0 145deg, #8f8fe0 190deg, #d07cc8 240deg, #f08aa6 290deg, #f59a86 330deg, #e6b07a 360deg)"></div><div class="a" style="left:269px;top:31px;width:2.1px;height:6.9px;background:rgba(255,235,255,.9)"></div><div class="a" style="left:273px;top:28px;width:2px;height:9.9px;background:rgba(255,240,245,.9)"></div><div class="a" style="left:276.8px;top:34px;width:2.1px;height:3.9px;background:rgba(220,255,255,.9)"></div><div class="a" style="left:289px;top:23px;width:1px;height:19px;background:#5f6270"></div><div class="t" id="t83" style="left:292.4px;top:26.33px;font-size:14.5px;color:#6a6d7e;letter-spacing:0.867px;">Tenant Admin</div><svg class="a" style="left:472px;top:29px" width="12" height="8" viewBox="0 0 12 8"><polyline points="1,1 6,6 11,1" fill="none" stroke="#b9bbc4" stroke-width="1.1"/></svg><div class="a" style="left:392px;top:37px;width:20px;height:20px;border-radius:50%;background:#e6356c;color:#fff;font-weight:700;font-size:13.5px;line-height:20.5px;text-align:center">1</div><div class="t" id="t84" style="left:505.2px;top:25.90px;font-size:13px;color:#4986c6;letter-spacing:0.426px;">Administration</div><div class="a" style="left:602.3px;top:27px;width:1.1px;height:12px;background:#c3c4cc;transform:skewX(-17deg)"></div><div class="t m2" id="t85" style="left:614.5px;top:24.86px;font-size:16px;color:#5b5e72;letter-spacing:1.161px;">Tenant Overview</div><div class="t m3" id="t86" style="left:253.7px;top:76.71px;font-size:24.2px;color:#11133b;letter-spacing:1.646px;">Tenant Overview</div><svg class="a" style="left:1324px;top:22px" width="26" height="22" viewBox="1324 22 26 22"><g fill="none" stroke="#505056" stroke-width="1.2" stroke-linejoin="round">
<path d="M1327.2,36.8 L1328.2,34.4 C1326.8,33.4 1326.2,32 1326.2,30.4 C1326.2,26.8 1329.2,24.2 1332.8,24.2 C1336.4,24.2 1339.4,26.8 1339.4,30.2 C1339.4,33.4 1336.4,35.6 1332.8,35.6 C1331.4,35.6 1330.2,35.5 1329.2,35.2 Z"/>
<path d="M1340,29 C1343.4,29.2 1346,31.6 1346,34.8 C1346,36.4 1345.6,37.6 1344.8,38.6 L1347.6,41.6 L1343.6,40.6 C1342.6,41 1341.6,41.2 1340.6,41.2 C1337.6,41.2 1335.2,39.8 1334.2,37.2"/></g></svg><svg class="a" style="left:1378px;top:22px" width="22" height="22" viewBox="1378 22 22 22"><g fill="none" stroke="#505056" stroke-width="1.2">
<circle cx="1388.9" cy="32.8" r="8.6"/><path d="M1384.4,37.3 L1386.9,31.6 L1393.4,28.3 L1390.9,34 Z"/></g><circle cx="1388.9" cy="32.8" r="0.9" fill="#4a4a50"/></svg><div class="a" style="left:1409.5px;top:17.3px;width:78.3px;height:31px;background:#eef2fa"></div><div class="a" style="left:1415.7px;top:26.5px;width:5.5px;height:6.8px;background:#c8d8f4"></div><div class="a" style="left:1421px;top:26.5px;width:5.2px;height:6.8px;background:#dae5f8"></div><div class="a" style="left:1426px;top:26.5px;width:4.7px;height:6.8px;background:#b0c8f0"></div><div class="a" style="left:1436px;top:26.5px;width:5.4px;height:6.8px;background:#c0d4f2"></div><div class="a" style="left:1441.2px;top:26.5px;width:6.0px;height:6.8px;background:#86abea"></div><div class="a" style="left:1447px;top:26.5px;width:6.2px;height:6.8px;background:#d0def6"></div><div class="a" style="left:1453px;top:26.5px;width:6.2px;height:6.8px;background:#bcd1f3"></div><div class="a" style="left:1459px;top:26.5px;width:6.2px;height:6.8px;background:#b5cdf2"></div><div class="a" style="left:1465px;top:26.5px;width:7.2px;height:6.8px;background:#a9c4ef"></div><div class="a" style="left:1415.7px;top:32.5px;width:5.5px;height:6.8px;background:#a8c3ee"></div><div class="a" style="left:1421px;top:32.5px;width:5.2px;height:6.8px;background:#c5d7f3"></div><div class="a" style="left:1426px;top:32.5px;width:4.7px;height:6.8px;background:#9dbbec"></div><div class="a" style="left:1436px;top:32.5px;width:5.4px;height:6.8px;background:#b0c9f0"></div><div class="a" style="left:1441.2px;top:32.5px;width:6.0px;height:6.8px;background:#95b6ec"></div><div class="a" style="left:1447px;top:32.5px;width:6.2px;height:6.8px;background:#86abea"></div><div class="a" style="left:1453px;top:32.5px;width:6.2px;height:6.8px;background:#b5cdf1"></div><div class="a" style="left:1459px;top:32.5px;width:6.2px;height:6.8px;background:#a7c3ef"></div><div class="a" style="left:1465px;top:32.5px;width:7.2px;height:6.8px;background:#8fb2eb"></div><div class="a" style="left:1496.1px;top:27.1px;width:4.4px;height:4.8px;background:#606060"></div><div class="a" style="left:1500.2px;top:27.1px;width:7.3px;height:4.8px;background:#a0a0a0"></div><div class="a" style="left:1507.4px;top:27.1px;width:5.0px;height:4.8px;background:#b8b8b8"></div><div class="a" style="left:1512.1px;top:27.1px;width:7.3px;height:4.8px;background:#909090"></div><div class="a" style="left:1519.3px;top:27.1px;width:3.8px;height:4.8px;background:#e4e4e4"></div><div class="a" style="left:1522.9px;top:27.1px;width:6.2px;height:4.8px;background:#707070"></div><div class="a" style="left:1528.8px;top:27.1px;width:6.2px;height:4.8px;background:#888888"></div><div class="a" style="left:1534.8px;top:27.1px;width:5.0px;height:4.8px;background:#b0b0b0"></div><div class="a" style="left:1539.5px;top:27.1px;width:5.0px;height:4.8px;background:#c0c0c0"></div><div class="a" style="left:1544.3px;top:27.1px;width:7.3px;height:4.8px;background:#909090"></div><div class="a" style="left:1551.4px;top:27.1px;width:7.3px;height:4.8px;background:#a8a8a8"></div><div class="a" style="left:1558.6px;top:27.1px;width:7.3px;height:4.8px;background:#8a8a8a"></div><div class="a" style="left:1565.7px;top:27.1px;width:5.0px;height:4.8px;background:#d0d0d0"></div><div class="a" style="left:1496.1px;top:31.9px;width:4.4px;height:4.7px;background:#707070"></div><div class="a" style="left:1500.2px;top:31.9px;width:7.3px;height:4.7px;background:#c8c8c8"></div><div class="a" style="left:1507.4px;top:31.9px;width:5.0px;height:4.7px;background:#8a8a8a"></div><div class="a" style="left:1512.1px;top:31.9px;width:7.3px;height:4.7px;background:#b0b0b0"></div><div class="a" style="left:1519.3px;top:31.9px;width:3.8px;height:4.7px;background:#ececec"></div><div class="a" style="left:1522.9px;top:31.9px;width:6.2px;height:4.7px;background:#8a8a8a"></div><div class="a" style="left:1528.8px;top:31.9px;width:6.2px;height:4.7px;background:#5a5a5a"></div><div class="a" style="left:1534.8px;top:31.9px;width:5.0px;height:4.7px;background:#c0c0c0"></div><div class="a" style="left:1539.5px;top:31.9px;width:5.0px;height:4.7px;background:#a0a0a0"></div><div class="a" style="left:1544.3px;top:31.9px;width:7.3px;height:4.7px;background:#b8b8b8"></div><div class="a" style="left:1551.4px;top:31.9px;width:7.3px;height:4.7px;background:#909090"></div><div class="a" style="left:1558.6px;top:31.9px;width:7.3px;height:4.7px;background:#a0a0a0"></div><div class="a" style="left:1565.7px;top:31.9px;width:5.0px;height:4.7px;background:#e0e0e0"></div><div class="a" style="left:1496.1px;top:36.6px;width:4.4px;height:2.4px;background:#ededed"></div><div class="a" style="left:1500.2px;top:36.6px;width:7.3px;height:2.4px;background:#f0f0f0"></div><div class="a" style="left:1507.4px;top:36.6px;width:5.0px;height:2.4px;background:#e8e8e8"></div><div class="a" style="left:1512.1px;top:36.6px;width:7.3px;height:2.4px;background:#efefef"></div><div class="a" style="left:1522.9px;top:36.6px;width:6.2px;height:2.4px;background:#ececec"></div><div class="a" style="left:1528.8px;top:36.6px;width:6.2px;height:2.4px;background:#e8e8e8"></div><div class="a" style="left:1534.8px;top:36.6px;width:5.0px;height:2.4px;background:#f0f0f0"></div><div class="a" style="left:1539.5px;top:36.6px;width:5.0px;height:2.4px;background:#ececec"></div><div class="a" style="left:1544.3px;top:36.6px;width:7.3px;height:2.4px;background:#eeeeee"></div><div class="a" style="left:1551.4px;top:36.6px;width:7.3px;height:2.4px;background:#e9e9e9"></div><div class="a" style="left:1558.6px;top:36.6px;width:7.3px;height:2.4px;background:#ededed"></div><svg class="a" style="left:1581px;top:30px" width="11" height="7" viewBox="0 0 11 7"><polyline points="1,1 5.5,5.5 10,1" fill="none" stroke="#c6c7cc" stroke-width="1.1"/></svg><div class="a" style="left:1476.5px;top:73.5px;width:123px;height:31px;background:#f7f8fa;border:1px solid #e2e3e8;border-radius:3px;box-shadow:0 1px 2px rgba(0,0,0,.08)"></div><div class="t m" id="t87" style="left:1493.0px;top:82.15px;font-size:14px;color:#45464c;letter-spacing:0.879px;">Oct 2023</div><svg class="a" style="left:1569px;top:84px" width="15" height="10" viewBox="0 0 15 10"><polyline points="1.5,2 7.5,8 13.5,2" fill="none" stroke="#35363c" stroke-width="1.8"/></svg><div id="side"></div><div class="a" style="left:220px;top:11px;width:1px;height:850px;background:#02032c"></div><div class="a" style="left:221px;top:11px;width:1px;height:850px;background:#f1f1fd"></div><div class="a" style="left:11px;top:120px;width:210px;height:64px;background:#2c3159"></div><svg class="a" style="left:30px;top:25px" width="50" height="50" viewBox="0 0 872 872">
<polygon points="75,245 265,140 350,192 75,350" fill="#d6648a"/>
<polygon points="340,95 420,55 612,155 612,258 348,128" fill="#c85c9e"/>
<polygon points="660,190 772,245 772,470 660,522" fill="#a651b9"/>
<polygon points="412,700 772,530 772,625 430,812 412,800" fill="#9b47c6"/>
<polygon points="75,385 175,358 175,690 75,640" fill="#da6681"/>
<path d="M420,228 L615,330 L615,555 L420,660 L330,615 L330,775 L230,722 L230,330 Z M420,345 L510,395 L510,500 L420,550 L330,500 L330,395 Z" fill="#b9b5f0" fill-rule="evenodd"/>
</svg><div class="t" id="t88" style="left:85.5px;top:37.15px;font-size:22.5px;color:#ffffff;font-weight:700;letter-spacing:0.674px;">palette</div><div class="t" id="t89" style="left:32.0px;top:90.21px;font-size:10.5px;color:#b4b7cf;letter-spacing:0.349px;">4.1.0-230905</div><div class="t m" id="t90" style="left:68.3px;top:144.73px;font-size:14.5px;color:#ffffff;letter-spacing:0.740px;">Overview</div><div class="t m" id="t91" style="left:68.3px;top:208.73px;font-size:14.5px;color:#c9cce6;letter-spacing:0.589px;">Projects</div><div class="a" style="left:141px;top:206.5px;width:20px;height:20px;border-radius:50%;background:#e6356c;color:#fff;font-weight:700;font-size:13.5px;line-height:20.5px;text-align:center">2</div><div class="t m" id="t92" style="left:68.3px;top:272.73px;font-size:14.5px;color:#c9cce6;letter-spacing:0.265px;">Profiles</div><div class="a" style="left:140.5px;top:270.3px;width:20px;height:20px;border-radius:50%;background:#e6356c;color:#fff;font-weight:700;font-size:13.5px;line-height:20.5px;text-align:center">3</div><div class="t m" id="t93" style="left:68.3px;top:336.73px;font-size:14.5px;color:#c9cce6;letter-spacing:0.561px;">Clusters</div><div class="a" style="left:137.5px;top:335px;width:20px;height:20px;border-radius:50%;background:#e6356c;color:#fff;font-weight:700;font-size:13.5px;line-height:20.5px;text-align:center">4</div><div class="t m" id="t94" style="left:68.3px;top:400.73px;font-size:14.5px;color:#c9cce6;letter-spacing:0.492px;">Cluster Groups</div><div class="a" style="left:183.5px;top:398.5px;width:20px;height:20px;border-radius:50%;background:#e6356c;color:#fff;font-weight:700;font-size:13.5px;line-height:20.5px;text-align:center">5</div><div class="t m" id="t95" style="left:68.3px;top:464.73px;font-size:14.5px;color:#c9cce6;letter-spacing:-0.066px;">Roles</div><div class="a" style="left:116.5px;top:463.3px;width:20px;height:20px;border-radius:50%;background:#e6356c;color:#fff;font-weight:700;font-size:13.5px;line-height:20.5px;text-align:center">6</div><div class="t m" id="t96" style="left:68.3px;top:528.73px;font-size:14.5px;color:#c9cce6;letter-spacing:0.314px;">Users &amp; Teams</div><div class="a" style="left:183.5px;top:527px;width:20px;height:20px;border-radius:50%;background:#e6356c;color:#fff;font-weight:700;font-size:13.5px;line-height:20.5px;text-align:center">7</div><div class="t m" id="t97" style="left:68.3px;top:592.73px;font-size:14.5px;color:#c9cce6;letter-spacing:0.387px;">Audit Logs</div><div class="a" style="left:151.5px;top:590.5px;width:20px;height:20px;border-radius:50%;background:#e6356c;color:#fff;font-weight:700;font-size:13.5px;line-height:20.5px;text-align:center">8</div><div class="t m" id="t98" style="left:68.3px;top:656.73px;font-size:14.5px;color:#c9cce6;letter-spacing:0.625px;">Tenant Settings</div><div class="a" style="left:185.5px;top:655.6px;width:20px;height:20px;border-radius:50%;background:#e6356c;color:#fff;font-weight:700;font-size:13.5px;line-height:20.5px;text-align:center">9</div><svg class="a" style="left:32px;top:142px" width="21" height="19" viewBox="0 0 21 19">
<g fill="none" stroke="#fff" stroke-width="1.4">
<rect x="1.2" y="12.2" width="2.6" height="5.6" rx=".5"/><rect x="6.2" y="8.2" width="2.6" height="9.6" rx=".5"/>
<rect x="11.2" y="12.2" width="2.6" height="5.6" rx=".5"/><rect x="16.2" y="8.2" width="2.6" height="9.6" rx=".5"/>
<polyline points="2.5,8 7.5,3 12,7 17.5,3"/></g>
<g fill="#fff"><circle cx="2.5" cy="8" r="1.5"/><circle cx="7.5" cy="3" r="1.5"/><circle cx="12" cy="7" r="1.5"/><circle cx="17.5" cy="3" r="1.5"/></g></svg><svg class="a" style="left:34px;top:208px" width="16" height="16" viewBox="0 0 16 16">
<rect x="0" y="0" width="16" height="16" rx="2.2" fill="#b9bdd9"/>
<g fill="#0e1341"><rect x="3.3" y="6.3" width="1.6" height="5.8"/><rect x="7.2" y="3.7" width="1.6" height="8.4"/><rect x="11" y="9" width="1.6" height="3.1"/></g></svg><svg class="a" style="left:34px;top:271px" width="16" height="18" viewBox="0 0 16 18">
<g fill="#b9bdd9">
<path d="M3,1 L13,1 L15.5,3.8 L13,6.6 L3,6.6 L0.5,3.8 Z"/>
<path d="M0.6,6.6 L2.8,9.3 L13.2,9.3 L15.4,6.6 L15.4,8.6 L13.2,11.1 L2.8,11.1 L0.6,8.6 Z"/>
<path d="M0.6,10.2 L2.8,12.9 L13.2,12.9 L15.4,10.2 L15.4,12.3 L13.2,14.8 L2.8,14.8 L0.6,12.3 Z"/>
<path d="M0.6,13.9 L2.8,16.4 L13.2,16.4 L15.4,13.9 L15.4,15.2 L13.2,17.6 L2.8,17.6 L0.6,15.2 Z"/>
</g></svg><svg class="a" style="left:33px;top:335px" width="19" height="18" viewBox="0 0 19 18">
<g fill="#b9bdd9"><rect x="0.5" y="1.5" width="12" height="3" rx=".6"/><rect x="0.5" y="8" width="12" height="3" rx=".6"/><rect x="0.5" y="14.5" width="12" height="3" rx=".6"/></g>
<path d="M14,1.8 H17.3 V17 H14" fill="none" stroke="#b9bdd9" stroke-width="1.3"/></svg><svg class="a" style="left:31px;top:398px" width="22" height="20" viewBox="0 0 22 20">
<g fill="none" stroke="#b9bdd9" stroke-width="1.2">
<circle cx="11.5" cy="10.5" r="3.2"/><circle cx="7" cy="2.5" r="1.8"/><circle cx="18" cy="4.5" r="1.8"/><circle cx="18" cy="15.5" r="1.8"/><circle cx="2.5" cy="10" r="1.8"/>
<line x1="8" y1="4.2" x2="10" y2="7.6"/><line x1="16.4" y1="5.4" x2="14.3" y2="8.6"/><line x1="16.4" y1="14.6" x2="14.1" y2="12.6"/><line x1="4.3" y1="10.1" x2="8.3" y2="10.3"/></g></svg><svg class="a" style="left:32px;top:463px" width="21" height="18" viewBox="0 0 21 18">
<g fill="#b9bdd9"><circle cx="7.3" cy="5" r="4.2"/><path d="M0.2,16.8 C0.4,12 3.5,10.6 7.3,10.6 C11.1,10.6 14,12 14.2,16.8 Z"/>
<rect x="13.7" y="11" width="6.3" height="5.8" rx=".8"/><path d="M15.2,11.3 V9.8 a1.7,1.7 0 0 1 3.4,0 V11.3" fill="none" stroke="#b9bdd9" stroke-width="1.3"/></g></svg><svg class="a" style="left:32px;top:527px" width="21" height="18" viewBox="0 0 21 18">
<g fill="#b9bdd9"><circle cx="7.3" cy="5" r="4.2"/><path d="M0.2,16.8 C0.4,12 3.5,10.6 7.3,10.6 C11.1,10.6 14,12 14.4,16.8 Z"/>
<circle cx="14.8" cy="5.2" r="3.4"/><path d="M15.2,11.2 C18.5,11 19.8,13 20.2,16.8 H16.2 C16.3,14.5 16,12.6 15.2,11.2 Z"/></g></svg><svg class="a" style="left:34px;top:590px" width="16" height="20" viewBox="0 0 16 20">
<path d="M1.5,1 H9.8 L14.5,5.8 V18.5 H1.5 Z" fill="#b9bdd9"/>
<circle cx="7.3" cy="9.5" r="3" fill="none" stroke="#0e1341" stroke-width="1.5"/><line x1="9.5" y1="11.7" x2="13" y2="15.3" stroke="#0e1341" stroke-width="1.5"/></svg><svg class="a" style="left:34px;top:656px" width="16" height="16" viewBox="-8 -8 16 16">
<g fill="#b9bdd9"><rect x="-1.6" y="-8" width="3.2" height="4" rx="1" transform="rotate(0)"/><rect x="-1.6" y="-8" width="3.2" height="4" rx="1" transform="rotate(45)"/><rect x="-1.6" y="-8" width="3.2" height="4" rx="1" transform="rotate(90)"/><rect x="-1.6" y="-8" width="3.2" height="4" rx="1" transform="rotate(135)"/><rect x="-1.6" y="-8" width="3.2" height="4" rx="1" transform="rotate(180)"/><rect x="-1.6" y="-8" width="3.2" height="4" rx="1" transform="rotate(225)"/><rect x="-1.6" y="-8" width="3.2" height="4" rx="1" transform="rotate(270)"/><rect x="-1.6" y="-8" width="3.2" height="4" rx="1" transform="rotate(315)"/>
<circle r="5.6"/></g><circle r="2" fill="#0e1341"/></svg><div class="a" style="left:11px;top:791px;width:210px;height:22px;background:#0a0e33"></div><div class="a" style="left:11px;top:812.5px;width:210px;height:1px;background:#464b7a"></div><div class="t" id="t99" style="left:114.0px;top:796.74px;font-size:10px;color:#5cb6e8;font-weight:700;letter-spacing:0.163px;transform:translateX(-50%);">MONTHLY ON DEMAND</div><svg class="a" style="left:23px;top:825px" width="33" height="28" viewBox="0 0 33 28">
<g fill="#9da2bd"><path d="M16.5,0.5 L32,9 L32,13 L16.5,4.8 L6,10.5 L10.5,13 L16.5,9.6 L22,12.6 L16.5,15.6 L1,7.2 Z" transform="translate(0,0)"/>
<path d="M1,11 L16.5,19.5 L26,14.3 L21.5,11.8 L16.5,14.5 L32,23 L16.5,27.5 L1,19 Z" opacity="1"/></g></svg><div class="t" id="t100" style="left:62.5px;top:830.64px;font-size:12px;color:#a2a6c3;letter-spacing:0.080px;">spectro cloud</div><svg class="a" style="left:181px;top:830px" width="10" height="16" viewBox="0 0 10 16"><polyline points="8,1.5 2,8 8,14.5" fill="none" stroke="#9da2bd" stroke-width="1.6"/></svg><div class="a" style="left:1494px;top:820px;width:128px;height:32px;background:#4a8ad8;border-radius:4px"></div><svg class="a" style="left:1508px;top:828px" width="15" height="16" viewBox="0 0 15 16"><g fill="#fff"><ellipse cx="7.5" cy="3.6" rx="3" ry="2.4"/><rect x="3.3" y="5.6" width="8.4" height="8.8" rx="3.6"/>
<g stroke="#fff" stroke-width="1.4"><line x1="0.5" y1="7" x2="3.5" y2="8"/><line x1="14.5" y1="7" x2="11.5" y2="8"/><line x1="0.5" y1="10.5" x2="3.5" y2="10.5"/><line x1="14.5" y1="10.5" x2="11.5" y2="10.5"/><line x1="1" y1="14.5" x2="4" y2="12.8"/><line x1="14" y1="14.5" x2="11" y2="12.8"/></g></g>
<rect x="6.9" y="6.5" width="1.2" height="7.5" fill="#4a8ad8"/></svg><div class="t" id="t101" style="left:1530.0px;top:829.30px;font-size:15px;color:#ffffff;letter-spacing:1.000px;">Bug report</div><div class="a" style="left:1564.1px;top:794.3px;width:47.8px;height:47.8px;border-radius:50%;background:#88b4f5"></div><svg class="a" style="left:1576px;top:806px" width="22" height="24" viewBox="1576 806 22 24">
<g transform="rotate(-22 1587 818)">
<path d="M1583.6,816.5 L1590.6,816.5 L1591,823.5 L1589.5,827 L1585,827 L1583.4,823.5 Z" fill="#f4f4fa"/>
<path d="M1584.2,823 L1590.4,823 L1590,825.2 L1584.6,825.2 Z" fill="#d9c8e4"/>
<rect x="1586.6" y="824.6" width="2" height="1.6" fill="#e79ab8"/>
<ellipse cx="1587.1" cy="813.2" rx="4.9" ry="3.9" fill="#f0f0f6"/>
<ellipse cx="1587.1" cy="813.4" rx="4.1" ry="3.1" fill="#0f1f5c"/>
<ellipse cx="1586.2" cy="812.6" rx="1.6" ry="0.9" fill="#3a4f98"/>
<path d="M1583.8,817.2 L1579.6,813.8 L1578.6,815.2 L1583,819.4 Z" fill="#eeeef6"/>
</g></svg></div></body></html>
